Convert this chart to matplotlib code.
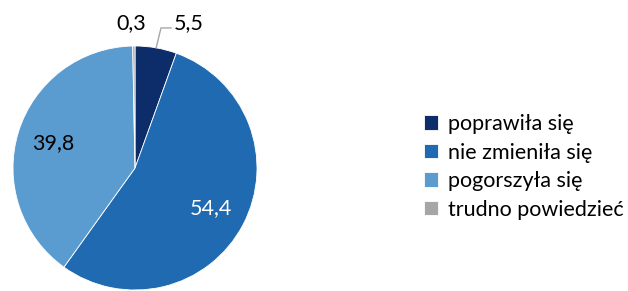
import matplotlib
matplotlib.use("Agg")
import matplotlib.pyplot as plt
import numpy as np

# data
categories = ["poprawiła się", "nie zmieniła się", "pogorszyła się", "trudno powiedzieć"]
values = [5.5, 54.4, 39.8, 0.3]
value_labels = ["5,5", "54,4", "39,8", "0,3"]
colors = ["#0c2d69", "#1f6ab0", "#5b9cd0", "#a6a6a6"]

plt.rcParams["font.family"] = ["Lato", "DejaVu Sans"]

W, H = 628, 291
cx, cy, r = 135, 168, 122

fig = plt.figure(figsize=(W / 100, H / 100), dpi=100)
ax = fig.add_axes([0, 0, 1, 1])

wedges, _ = ax.pie(values, colors=colors, startangle=90, counterclock=False,
                   radius=1, center=(0, 0),
                   wedgeprops=dict(edgecolor="white", linewidth=0.6))

# pie() resets limits/aspect, so place the pie afterwards
ax.set_aspect("auto")
ax.set_xlim(-cx / r, (W - cx) / r)
ax.set_ylim(-(H - cy) / r, cy / r)
ax.axis("off")

# labels inside the two big slices
for i, tcol in [(1, "white"), (2, "black")]:
    w = wedges[i]
    ang = np.deg2rad((w.theta1 + w.theta2) / 2)
    ax.text(0.7 * np.cos(ang), 0.7 * np.sin(ang), value_labels[i],
            ha="center", va="center", fontsize=15.5, color=tcol)

# small slices: outside labels with leader line for 5,5
ang = np.deg2rad(80)
ex, ey = np.cos(ang), np.sin(ang)
ax.plot([ex, 0.213, 0.295], [ey, 1.148, 1.148], color="#a6a6a6", lw=1)
ax.text(0.32, 1.19, value_labels[0], ha="left", va="center", fontsize=15.5)
ax.text(-0.03, 1.19, value_labels[3], ha="center", va="center", fontsize=15.5)

fig.legend(wedges, categories, loc="upper left", bbox_to_anchor=(424 / W, 1 - 114 / H),
           frameon=False, fontsize=15.5, handlelength=0.65, handleheight=0.65,
           handletextpad=0.45, labelspacing=0.4, borderaxespad=0, borderpad=0)

fig.savefig("out.png", dpi=100)
